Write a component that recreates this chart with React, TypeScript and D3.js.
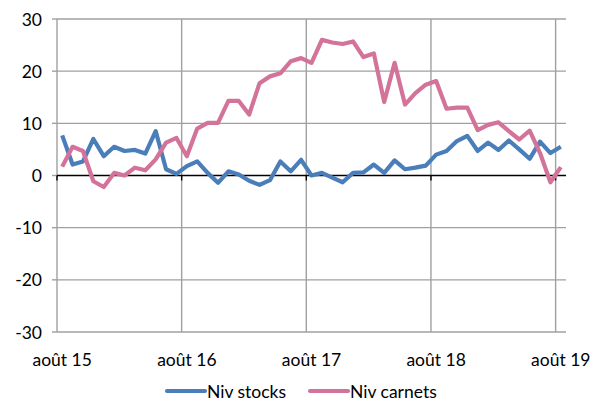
import React from "react";
import * as d3 from "d3";

const months: Date[] = d3.timeMonth.range(new Date(2015, 7, 1), new Date(2019, 8, 1));

const nivStocks: number[] = [
  7.7, 2.1, 2.7, 7.0, 3.7, 5.5, 4.7, 4.9, 4.2, 8.5, 1.2, 0.3,
  1.8, 2.7, 0.5, -1.4, 0.8, 0.2, -1.0, -1.8, -0.9, 2.7, 0.8, 3.0,
  0.0, 0.5, -0.4, -1.3, 0.5, 0.6, 2.1, 0.5, 2.9, 1.2, 1.5, 1.9,
  4.0, 4.7, 6.6, 7.6, 4.7, 6.3, 4.9, 6.7, 5.0, 3.2, 6.5, 4.3, 5.5,
];

const nivCarnets: number[] = [
  1.7, 5.5, 4.7, -1.1, -2.2, 0.5, 0.0, 1.5, 1.0, 3.1, 6.3, 7.2,
  3.7, 9.0, 10.1, 10.1, 14.3, 14.3, 11.7, 17.7, 19.0, 19.6, 21.9, 22.5,
  21.6, 26.0, 25.5, 25.2, 25.7, 22.7, 23.4, 14.1, 21.6, 13.6, 15.8, 17.4,
  18.1, 12.8, 13.0, 13.0, 8.7, 9.7, 10.2, 8.5, 6.9, 8.6, 4.3, -1.3, 1.6,
];

const yTicks: number[] = [-30, -20, -10, 0, 10, 20, 30];
const xTickIdx: number[] = [0, 12, 24, 36, 48];
const xTickLabels: string[] = ["août 15", "août 16", "août 17", "août 18", "août 19"];

const seriesNames: string[] = ["Niv stocks", "Niv carnets"];
const seriesColors: string[] = ["#4A7EBB", "#D4739A"];

export default function App() {
  const W = 601;
  const H = 401;
  const left = 57;
  const right = 566;
  const top = 19;
  const bottom = 332;
  const font = "Lato, 'Open Sans', sans-serif";
  const fs = 17.5;

  const x = d3
    .scaleBand<number>()
    .domain(d3.range(months.length))
    .range([left, right])
    .padding(0);
  const y = d3.scaleLinear().domain([-30, 30]).range([bottom, top]);

  const line = d3
    .line<number>()
    .x((_, i) => (x(i) as number) + x.bandwidth() / 2)
    .y((d) => y(d));

  const grid = "#A0A0A0";
  const series = [nivStocks, nivCarnets];

  return (
    <svg
      width={W}
      height={H}
      style={{ position: "absolute", left: 0, top: 0, background: "#fff" }}
      fontFamily={font}
    >
      {yTicks.map((t) => (
        <g key={"y" + t}>
          {t !== 0 && (
            <line x1={left} x2={right} y1={y(t)} y2={y(t)} stroke={grid} strokeWidth={1.4} />
          )}
          <line x1={left - 5} x2={left} y1={y(t)} y2={y(t)} stroke={grid} strokeWidth={1.4} />
          <text
            x={42}
            y={y(t)}
            textAnchor="end"
            dominantBaseline="central"
            fontSize={fs}
            fill="#000"
          >
            {t}
          </text>
        </g>
      ))}
      {xTickIdx.map((i) => (
        <line
          key={"vx" + i}
          x1={x(i) as number}
          x2={x(i) as number}
          y1={top}
          y2={bottom}
          stroke={grid}
          strokeWidth={1.4}
        />
      ))}
      <line x1={left} x2={right} y1={y(0)} y2={y(0)} stroke="#000" strokeWidth={1.6} />
      {xTickIdx.map((i) => (
        <line
          key={"tx" + i}
          x1={x(i) as number}
          x2={x(i) as number}
          y1={y(0)}
          y2={y(0) + 5}
          stroke="#000"
          strokeWidth={1.4}
        />
      ))}
      {xTickIdx.map((i, k) => (
        <text
          key={"lx" + i}
          x={(x(i) as number) + x.bandwidth() / 2}
          y={359}
          textAnchor="middle"
          dominantBaseline="central"
          fontSize={fs}
          fill="#000"
        >
          {xTickLabels[k]}
        </text>
      ))}
      {series.map((s, k) => (
        <path
          key={"s" + k}
          d={line(s) || ""}
          fill="none"
          stroke={seriesColors[k]}
          strokeWidth={4.2}
          strokeLinejoin="round"
        />
      ))}
      {seriesNames.map((n, k) => {
        const lx = k === 0 ? 167 : 310;
        return (
          <g key={"lg" + k}>
            <line
              x1={lx}
              x2={lx + 38}
              y1={391}
              y2={391}
              stroke={seriesColors[k]}
              strokeWidth={4.2}
              strokeLinecap="round"
            />
            <text x={lx + 40} y={391} dominantBaseline="central" fontSize={fs} fill="#000">
              {n}
            </text>
          </g>
        );
      })}
    </svg>
  );
}
